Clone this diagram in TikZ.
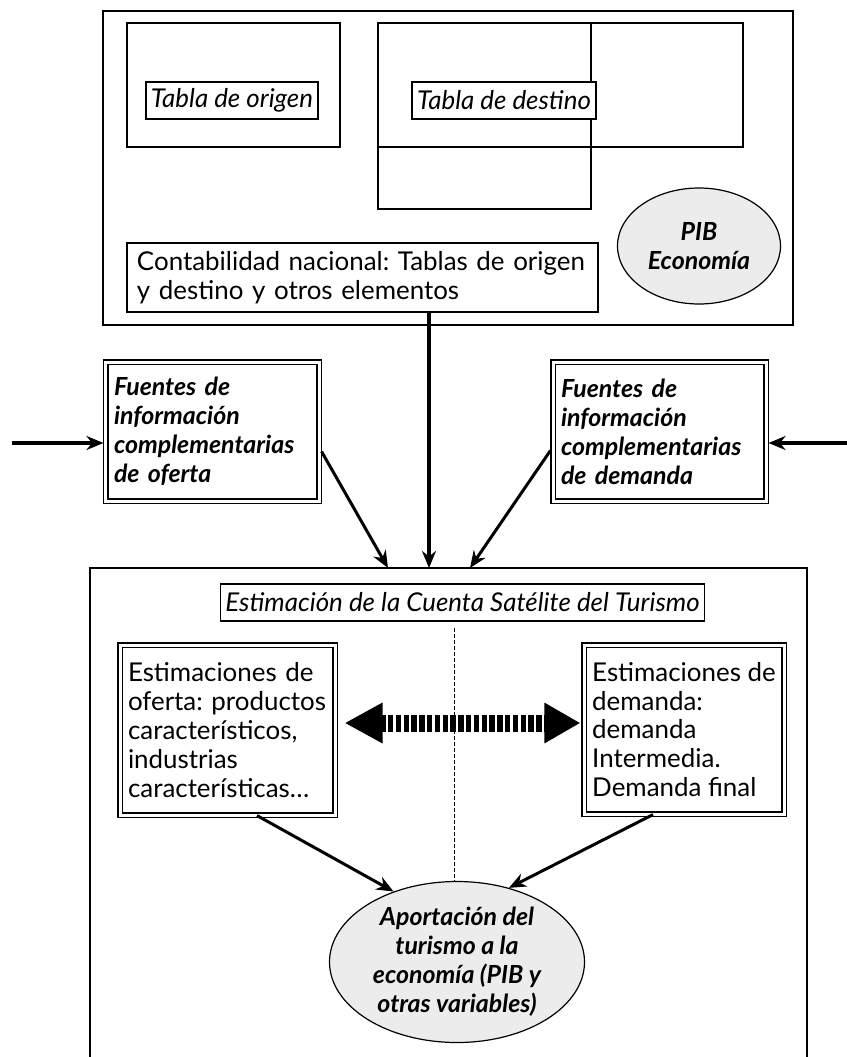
\documentclass[tikz,border=0pt]{standalone}
\usepackage{fontspec}
\setmainfont{Lato}
\usetikzlibrary{positioning,arrows.meta,shapes.geometric}
\tikzset{>={Stealth[length=17bp,width=14bp]}}
\newcommand*{\txt}{\fontsize{26}{29}\selectfont\frenchspacing}
\newcommand*{\bitxt}{\fontsize{25}{29}\selectfont\bfseries\itshape}
\tikzset{
  frame/.style={draw,line width=1.3bp},
  lbl/.style={draw,fill=white,line width=1.3bp,inner xsep=5bp,inner ysep=0bp,minimum height=37bp,font=\txt\itshape},
  dbox/.style={draw,double,double distance=3bp,line width=1.1bp,align=left,inner xsep=8bp,inner ysep=0bp},
  oval/.style={draw,ellipse,fill=gray!15,line width=1.2bp,align=center,inner sep=0bp,font=\bitxt},
  flow/.style={->,line width=3bp},
  bigflow/.style={{Triangle[length=38bp,width=38bp]}-{Triangle[length=36bp,width=38bp]},line width=17bp,dash pattern=on 5.5bp off 2.3bp},
}

\begin{document}
\begin{tikzpicture}[x=1bp,y=-1bp]
\useasboundingbox (0,0) rectangle (847,1057);
% Upper block: national accounts
\draw[frame] (103,11) rectangle (793,325);
\draw[frame] (127,23) rectangle (340,147);
\draw[frame] (378,23) rectangle (743,147);
\draw[frame] (378,147) rectangle (591,209) -- (591,23);
\node[lbl] (origen) at (232,100.5) {Tabla de origen};
\node[lbl] (destino) at (504,100.5) {Tabla de destino};
\node[frame,align=left,text width=451bp,minimum height=69bp,inner xsep=10bp,font=\txt] (contab) at (362.5,277.5)
  {Contabilidad nacional: Tablas de origen\\y destino y otros elementos};
\node[oval,minimum width=163bp,minimum height=116bp] (pib) at (699,246) {PIB\\Economía};
% Complementary sources
\node[dbox,text width=197bp,minimum width=213bp,minimum height=139bp,font=\bitxt] (foferta) at (212.5,431.5)
  {Fuentes de\\información\\complementarias\\de oferta};
\node[dbox,text width=197bp,minimum width=213bp,minimum height=139bp,font=\bitxt] (fdemanda) at (659.5,431.5)
  {Fuentes de\\información\\complementarias\\de demanda};
\coordinate (inl) at (12,443);
\coordinate (inr) at (847,443);
\draw[->,line width=4bp] (inl) -- ([xshift=-2bp]foferta.west |- inl);
\draw[->,line width=4bp] (inr) -- ([xshift=2bp]fdemanda.east |- inr);
% Lower block: tourism satellite account
\draw[frame] (90,1060) |- (807,568) -- (807,1060);
\coordinate (t1) at (388,568);
\coordinate (t2) at (429,568);
\coordinate (t3) at (470,568);
\draw[->,line width=4bp] (contab.south -| t2) -- (t2);
\draw[flow] ([xshift=2bp,yshift=-20bp]foferta.east) -- (t1);
\draw[flow] ([xshift=-2bp,yshift=-19bp]fdemanda.west) -- (t3);
\node[lbl] (est) at (462.5,602.5) {Estimación de la Cuenta Satélite del Turismo};
\node[dbox,text width=199bp,minimum width=215bp,minimum height=170bp,font=\txt] (estof) at (227.5,730)
  {Estimaciones de\\oferta: productos\\característicos,\\industrias\\características\dots};
\node[dbox,inner xsep=0bp,minimum width=200bp,minimum height=169bp,font=\txt] (estdem) at (684,729.5)
  {Estimaciones de\\demanda:\\demanda\\Intermedia.\\Demanda final};
\node[oval,minimum width=255bp,minimum height=161bp] (aport) at (457,962)
  {Aportación del\\turismo a la\\economía (PIB y\\otras variables)};
% Dashed axis and exchange arrow
\coordinate (mid) at (454,628);
\draw[bigflow] ([xshift=9bp,yshift=7bp]estof.east) -- ([xshift=-3bp,yshift=6.5bp]estdem.west);
\draw[line width=1bp,dash pattern=on 4bp off 2bp] (mid) -- (aport.north -| mid);
\draw[flow] (estof.south -| 257,0) -- (aport.132);
\draw[flow] (estdem.south -| 653,0) -- (aport.55);
\end{tikzpicture}
\end{document}
